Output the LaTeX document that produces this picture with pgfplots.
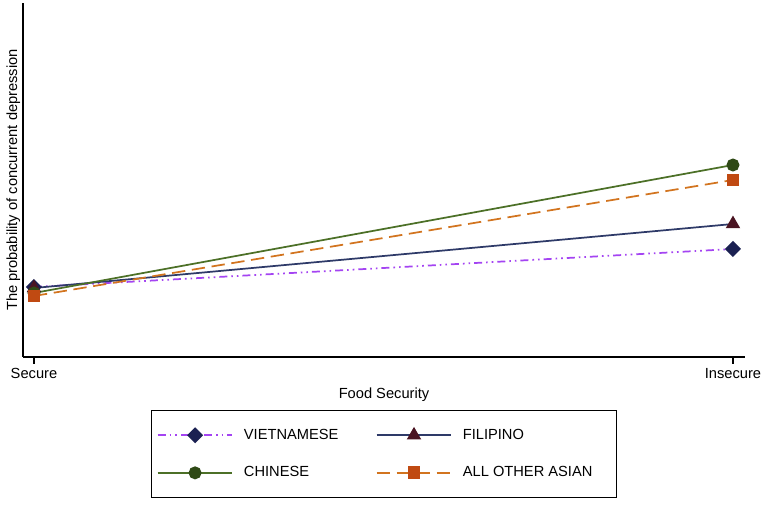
\documentclass[border=0pt]{standalone}
\usepackage{pgfplots}
\pgfplotsset{compat=1.18}
\usepackage{fontspec}
\setmainfont{Liberation Sans}

\definecolor{vietline}{HTML}{A444F2}
\definecolor{vietmark}{HTML}{1B2152}
\definecolor{fililine}{HTML}{2E3A68}
\definecolor{filimark}{HTML}{4A1422}
\definecolor{chinline}{HTML}{4C7027}
\definecolor{chinmark}{HTML}{2F4A16}
\definecolor{othline}{HTML}{D2741F}
\definecolor{othmark}{HTML}{C04A12}

\begin{document}
\begin{tikzpicture}
\begin{axis}[
    name=ax,
    scale only axis,
    width=541.5pt, height=265.5pt,
    font=\fontsize{11}{13}\selectfont,
    axis x line=bottom, axis y line=left,
    axis line style={-, line width=0.8pt},
    xmin=-0.0157, xmax=1.0172,
    ymin=0, ymax=354,
    xtick={0,1}, xticklabels={Secure,Insecure},
    ytick=\empty,
    tick align=outside, major tick length=5pt,
    xtick style={line width=0.8pt, black},
    xlabel={Food Security},
    ylabel={The probability of concurrent depression},
    xlabel style={yshift=0pt},
    ylabel style={yshift=-6.5pt},
    legend columns=2,
    legend cell align=left,
    legend style={at={(0.5,-0.15)}, anchor=north,
        draw=black, line width=0.6pt,
        inner xsep=4pt, inner ysep=12pt,
        font=\fontsize{11}{13}\selectfont,
        /tikz/every odd column/.append style={column sep=6pt},
        /tikz/every even column/.append style={column sep=26pt},
        row sep=15pt},
    legend image code/.code={
        \draw[mark repeat=2, mark phase=2] plot coordinates {(0pt,0pt) (28pt,0pt) (56pt,0pt)};},
]
\addplot[vietline, line width=1.3pt,
    dash pattern=on 6pt off 3pt on 1.2pt off 3pt on 1.2pt off 3pt,
    mark=square*, mark size=3.6pt,
    mark options={solid, rotate=45, fill=vietmark, draw=vietmark}]
    coordinates {(0,70) (1,108)};
\addlegendentry{VIETNAMESE}
\addplot[fililine, line width=1.3pt,
    mark=triangle*, mark size=5pt,
    mark options={solid, fill=filimark, draw=filimark}]
    coordinates {(0,69) (1,133)};
\addlegendentry{FILIPINO}
\addplot[chinline, line width=1.3pt,
    mark=*, mark size=4.2pt,
    mark options={solid, fill=chinmark, draw=chinmark}]
    coordinates {(0,64) (1,192)};
\addlegendentry{CHINESE}
\addplot[othline, line width=1.3pt,
    dash pattern=on 10pt off 5pt,
    mark=square*, mark size=4.2pt,
    mark options={solid, fill=othmark, draw=othmark}]
    coordinates {(0,61) (1,177)};
\addlegendentry{ALL OTHER ASIAN\hspace*{12pt}}
\end{axis}
\pgfresetboundingbox
\path (ax.south west) ++(-17.25pt,-114pt) coordinate (bl);
\path (ax.north east) ++(12.75pt,2.25pt) coordinate (tr);
\path (bl) rectangle (tr);
\end{tikzpicture}
\end{document}
